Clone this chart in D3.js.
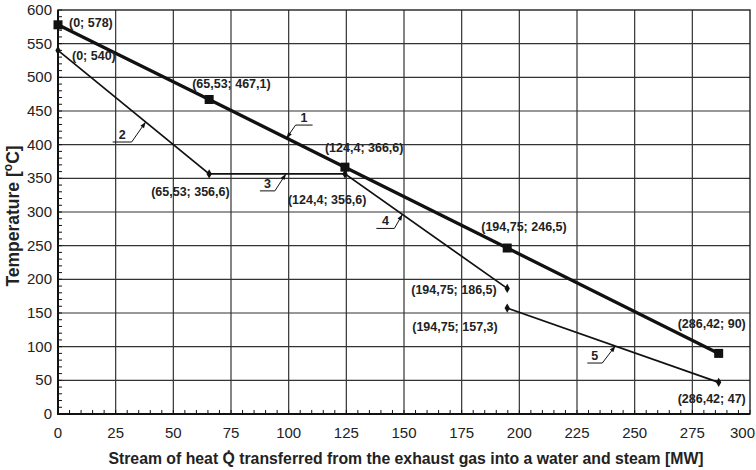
<!DOCTYPE html>
<html>
<head>
<script src="https://d3js.org/d3.v7.min.js"></script>
<style>
  body { margin: 0; background: #fff; }
  text { font-family: "Liberation Sans", Arial, sans-serif; }
  .ann { font-size: 12.5px; font-weight: bold; fill: #222; }
  .tick-lbl { font-size: 15px; fill: #222; }
</style>
</head>
<body>
<div id="chart"></div>
<script>
// stream of heat Q [MW] and temperature [C]
const gasQ = [0, 65.53, 124.4, 194.75, 286.42];
const gasT = [578, 467.1, 366.6, 246.5, 90];
const steamQ = [0, 65.53, 124.4, 194.75];
const steamT = [540, 356.6, 356.6, 186.5];
const ecoQ = [194.75, 286.42];
const ecoT = [157.3, 47];
const xTicks = [0, 25, 50, 75, 100, 125, 150, 175, 200, 225, 250, 275, 300];
const yTicks = [0, 50, 100, 150, 200, 250, 300, 350, 400, 450, 500, 550, 600];
const leaderNames = ["1", "2", "3", "4", "5"];
const leaderQ = [99.1, 38, 98.8, 149.3, 241.6];

const width = 756, height = 470;
const margin = {top: 10, right: 6, bottom: 56, left: 58};

const svg = d3.select("#chart").append("svg")
    .attr("width", width).attr("height", height);

const x = d3.scaleLinear().domain([0, 300]).range([margin.left, width - margin.right]);
const y = d3.scaleLinear().domain([0, 600]).range([height - margin.bottom, margin.top]);

// grid
svg.append("g").selectAll("line").data(xTicks.slice(1, -1)).join("line")
    .attr("x1", d => x(d)).attr("x2", d => x(d))
    .attr("y1", y(0)).attr("y2", y(600))
    .attr("stroke", "#333").attr("stroke-width", 1.2);
svg.append("g").selectAll("line").data(yTicks.slice(1, -1)).join("line")
    .attr("x1", x(0)).attr("x2", x(300))
    .attr("y1", d => y(d)).attr("y2", d => y(d))
    .attr("stroke", "#333").attr("stroke-width", 1.2);

// minor ticks pointing inward
svg.append("g").selectAll("line").data(d3.range(0, 301, 5)).join("line")
    .attr("x1", d => x(d)).attr("x2", d => x(d))
    .attr("y1", y(0)).attr("y2", y(0) - 4)
    .attr("stroke", "#111");
svg.append("g").selectAll("line").data(d3.range(0, 601, 10)).join("line")
    .attr("x1", x(0)).attr("x2", x(0) + 4)
    .attr("y1", d => y(d)).attr("y2", d => y(d))
    .attr("stroke", "#111");

// frame
svg.append("rect")
    .attr("x", x(0)).attr("y", y(600))
    .attr("width", x(300) - x(0)).attr("height", y(0) - y(600))
    .attr("fill", "none").attr("stroke", "#222").attr("stroke-width", 1.4);
svg.append("path")
    .attr("d", `M${x(0)},${y(600)}V${y(0)}H${x(300)}`)
    .attr("fill", "none").attr("stroke", "#111").attr("stroke-width", 2);

// tick labels
svg.append("g").selectAll("text").data(xTicks).join("text")
    .attr("class", "tick-lbl")
    .attr("x", d => d === 300 ? width - 1 : x(d)).attr("y", y(0) + 24)
    .attr("text-anchor", d => d === 300 ? "end" : "middle")
    .text(d => d);
svg.append("g").selectAll("text").data(yTicks).join("text")
    .attr("class", "tick-lbl")
    .attr("x", x(0) - 6).attr("y", d => y(d) + 5)
    .attr("text-anchor", "end")
    .text(d => d);

// axis titles
svg.append("text")
    .attr("x", 406).attr("y", 464)
    .attr("text-anchor", "middle")
    .style("font-size", "15.8px").style("font-weight", "bold").style("fill", "#222")
    .text("Stream of heat Q\u0307 transferred from the exhaust gas into a water and steam [MW]");
const yt = svg.append("text")
    .attr("transform", "translate(19,216) rotate(-90)")
    .attr("text-anchor", "middle")
    .style("font-size", "17.5px").style("font-weight", "bold").style("fill", "#222");
yt.append("tspan").text("Temperature [");
yt.append("tspan").attr("dy", -7).style("font-size", "12px").text("o");
yt.append("tspan").attr("dy", 7).text("C]");

// lines
const line = d3.line().x(d => x(d[0])).y(d => y(d[1]));
const gas = d3.zip(gasQ, gasT);
const steam = d3.zip(steamQ, steamT);
const eco = d3.zip(ecoQ, ecoT);

svg.append("path").datum(steam).attr("d", line)
    .attr("fill", "none").attr("stroke", "#111").attr("stroke-width", 1.7);
svg.append("path").datum(eco).attr("d", line)
    .attr("fill", "none").attr("stroke", "#111").attr("stroke-width", 1.7);
svg.append("path").datum(gas).attr("d", line)
    .attr("fill", "none").attr("stroke", "#111").attr("stroke-width", 3.3);

svg.append("g").selectAll("path").data(steam.concat(eco)).join("path")
    .attr("d", d3.symbol(d3.symbolDiamond, 24))
    .attr("transform", d => `translate(${x(d[0])},${y(d[1])})`)
    .attr("fill", "#111");
svg.append("g").selectAll("rect").data(gas).join("rect")
    .attr("x", d => x(d[0]) - 4.5).attr("y", d => y(d[1]) - 4.5)
    .attr("width", 9).attr("height", 9)
    .attr("fill", "#111");

// point annotations
const fmt = v => String(v).replace(".", ",");
const annOffsets = [
    [gas[0], 11, -2], [gas[1], -17, -15], [gas[2], -20, -19], [gas[3], -26, -21], [gas[4], -41, -29],
    [steam[0], 14, 6], [steam[1], -58, 18], [steam[2], -57, 26], [steam[3], -96, 2],
    [eco[0], -95, 19], [eco[1], -41, 17]
];
svg.append("g").selectAll("text").data(annOffsets).join("text")
    .attr("class", "ann")
    .attr("x", d => x(d[0][0]) + d[1])
    .attr("y", d => y(d[0][1]) + d[2] + 4)
    .text(d => `(${fmt(d[0][0])}; ${fmt(d[0][1])})`);

// leader callouts
const series = [gas, steam, steam, steam, eco];
function valueAt(pts, q) {
    for (let i = 0; i < pts.length - 1; i++) {
        const a = pts[i], b = pts[i + 1];
        if (q >= a[0] && q <= b[0]) return a[1] + (b[1] - a[1]) * (q - a[0]) / (b[0] - a[0]);
    }
    return pts[pts.length - 1][1];
}
// elbow offset from tip and underline length (negative = goes left)
const leaderGeom = [[9, -13, 17], [-14, 20, -19], [-11, 17, -15], [-8, 14, -18], [-13, 17, -15]];
leaderNames.forEach((name, i) => {
    const tx = x(leaderQ[i]), ty = y(valueAt(series[i], leaderQ[i]));
    const [dx, dy, len] = leaderGeom[i];
    const ex = tx + dx, ey = ty + dy;
    const g = svg.append("g");
    g.append("path")
        .attr("d", `M${ex + len},${ey}H${ex}L${tx},${ty}`)
        .attr("fill", "none").attr("stroke", "#111").attr("stroke-width", 1);
    const ang = Math.atan2(ty - ey, tx - ex);
    const L = 6, W = 2.2;
    const bx = tx - L * Math.cos(ang), by = ty - L * Math.sin(ang);
    g.append("path")
        .attr("d", `M${tx},${ty}L${bx + W * Math.sin(ang)},${by - W * Math.cos(ang)}L${bx - W * Math.sin(ang)},${by + W * Math.cos(ang)}Z`)
        .attr("fill", "#111");
    g.append("text")
        .attr("class", "ann")
        .attr("x", ex + len / 2).attr("y", ey - 3)
        .attr("text-anchor", "middle")
        .text(name);
});
</script>
</body>
</html>
